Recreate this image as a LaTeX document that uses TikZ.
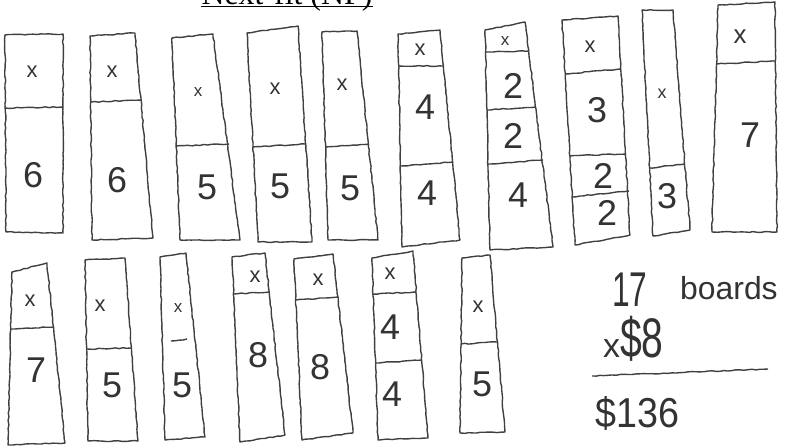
\documentclass[tikz,border=0pt]{standalone}
\usepackage{fontspec}
\setmainfont{Liberation Sans}
\newfontfamily\titlefont{Liberation Serif}
\usetikzlibrary{decorations.pathmorphing}

\begin{document}
\begin{tikzpicture}[
  x=1bp, y=-1bp,
  bd/.style={
    draw=black!75,
    line width=1.4bp,
    line join=round,
    decorate,
    decoration={random steps, segment length=4bp, amplitude=0.5bp}
  },
  num/.style={inner sep=0pt, text=black!80, font=\fontsize{36}{36}\selectfont},
  ex/.style={inner sep=0pt, text=black!80, font=\fontsize{22}{22}\selectfont},
  hand/.style={inner sep=0pt, anchor=base west, text=black!80}
]
\useasboundingbox (0,0) rectangle (788,448);

% title, cut off at the top
\node[inner sep=0pt, anchor=base, font=\titlefont\fontsize{32}{32}\selectfont] (title) at (287,5) {Next-fit (NF)};
\draw[line width=1.1bp] ([yshift=-1.5bp]title.base west) -- ([yshift=-1.5bp]title.base east);

% first row of boards
\draw[bd] (5,35) -- (63,34) -- (63,233) -- (6,232) -- cycle;
\draw[bd] (5,108) -- (63,107);
\node[ex] (b1x) at (32,72) {x};
\node[num] (b1a) at (33,175) {6};

\draw[bd] (90,36) -- (135,33) -- (153,238) -- (92,240) -- cycle;
\draw[bd] (91,102) -- (141,100);
\node[ex] (b2x) at (112,72) {x};
\node[num] (b2a) at (117,180) {6};

\draw[bd] (172,38) -- (213,34) -- (240,240) -- (180,240) -- cycle;
\draw[bd] (176,146) -- (229,144);
\node[ex, font=\fontsize{17}{17}\selectfont] (b3x) at (198,92) {x};
\node[num] (b3a) at (207,187) {5};

\draw[bd] (247,33) -- (298,26) -- (312,242) -- (258,242) -- cycle;
\draw[bd] (253,147) -- (306,144);
\node[ex] (b4x) at (275,89) {x};
\node[num] (b4a) at (280,186) {5};

\draw[bd] (322,32) -- (357,31) -- (378,240) -- (328,240) -- cycle;
\draw[bd] (325,147) -- (369,144);
\node[ex] (b5x) at (342,85) {x};
\node[num] (b5a) at (350,188) {5};

\draw[bd] (398,34) -- (440,30) -- (460,240) -- (402,247) -- cycle;
\draw[bd] (399,66) -- (443,66);
\draw[bd] (400,166) -- (453,162);
\node[ex] (b6x) at (420,50) {x};
\node[num] (b6a) at (425,107) {4};
\node[num] (b6b) at (427,193) {4};

\draw[bd] (485,30) -- (525,22) -- (553,247) -- (490,250) -- cycle;
\draw[bd] (486,52) -- (529,51);
\draw[bd] (487,110) -- (536,107);
\draw[bd] (488,164) -- (543,160);
\node[ex, font=\fontsize{17}{17}\selectfont] (b7x) at (505,41) {x};
\node[num] (b7a) at (513,86) {2};
\node[num] (b7b) at (513,136) {2};
\node[num] (b7c) at (518,195) {4};

\draw[bd] (562,20) -- (618,16) -- (630,235) -- (575,245) -- cycle;
\draw[bd] (565,74) -- (621,69);
\draw[bd] (570,156) -- (626,154);
\draw[bd] (572,197) -- (629,191);
\node[ex] (b8x) at (590,47) {x};
\node[num] (b8a) at (597,110) {3};
\node[num] (b8b) at (603,176) {2};
\node[num] (b8c) at (607,213) {2};

\draw[bd] (642,10) -- (673,10) -- (690,230) -- (653,236) -- cycle;
\draw[bd] (649,168) -- (685,164);
\node[ex, font=\fontsize{18}{18}\selectfont] (b9x) at (662,94) {x};
\node[num] (b9a) at (667,196) {3};

\draw[bd] (718,5) -- (775,2) -- (777,232) -- (712,232) -- cycle;
\draw[bd] (717,64) -- (775,61);
\node[ex, font=\fontsize{26}{26}\selectfont] (b10x) at (740,37) {x};
\node[num] (b10a) at (750,135) {7};

% second row of boards
\draw[bd] (12,272) -- (47,263) -- (65,443) -- (8,445) -- cycle;
\draw[bd] (11,329) -- (53,327);
\node[ex] (b11x) at (30,301) {x};
\node[num] (b11a) at (36,370) {7};

\draw[bd] (85,260) -- (125,258) -- (138,441) -- (88,441) -- cycle;
\draw[bd] (87,349) -- (131,348);
\node[ex] (b12x) at (100,306) {x};
\node[num] (b12a) at (112,385) {5};

\draw[bd] (160,257) -- (186,253) -- (205,437) -- (165,440) -- cycle;
\draw[bd] (171,341) -- (187,339);
\node[ex, font=\fontsize{17}{17}\selectfont] (b13x) at (178,308) {x};
\node[num] (b13a) at (182,385) {5};

\draw[bd] (232,257) -- (265,253) -- (285,435) -- (240,442) -- cycle;
\draw[bd] (234,294) -- (269,292);
\node[ex] (b14x) at (255,277) {x};
\node[num] (b14a) at (258,355) {8};

\draw[bd] (294,259) -- (333,254) -- (353,433) -- (302,440) -- cycle;
\draw[bd] (296,300) -- (338,297);
\node[ex] (b15x) at (318,280) {x};
\node[num] (b15a) at (320,367) {8};

\draw[bd] (372,258) -- (413,251) -- (428,438) -- (378,440) -- cycle;
\draw[bd] (373,294) -- (416,292);
\draw[bd] (375,363) -- (421,360);
\node[ex] (b16x) at (390,274) {x};
\node[num] (b16a) at (390,327) {4};
\node[num] (b16b) at (392,394) {4};

\draw[bd] (462,258) -- (490,255) -- (505,432) -- (460,433) -- cycle;
\draw[bd] (461,344) -- (497,342);
\node[ex] (b17x) at (478,307) {x};
\node[num] (b17a) at (482,384) {5};

% the cost
\node[hand, font=\fontsize{49}{49}\selectfont] (count) at (612,307) {\scalebox{0.65}[1]{17}};
\node[hand, font=\fontsize{32}{32}\selectfont] (word) at (680,300) {boards};
\node[hand, font=\fontsize{56}{56}\selectfont] (price) at (603,358) {{\fontsize{34}{34}\selectfont x}\scalebox{0.7}[1]{\$8}};
\draw[bd] (592,376) -- (768,369);
\node[hand, font=\fontsize{42}{42}\selectfont] (total) at (595,427) {\scalebox{0.9}[1]{\$136}};

\end{tikzpicture}
\end{document}
